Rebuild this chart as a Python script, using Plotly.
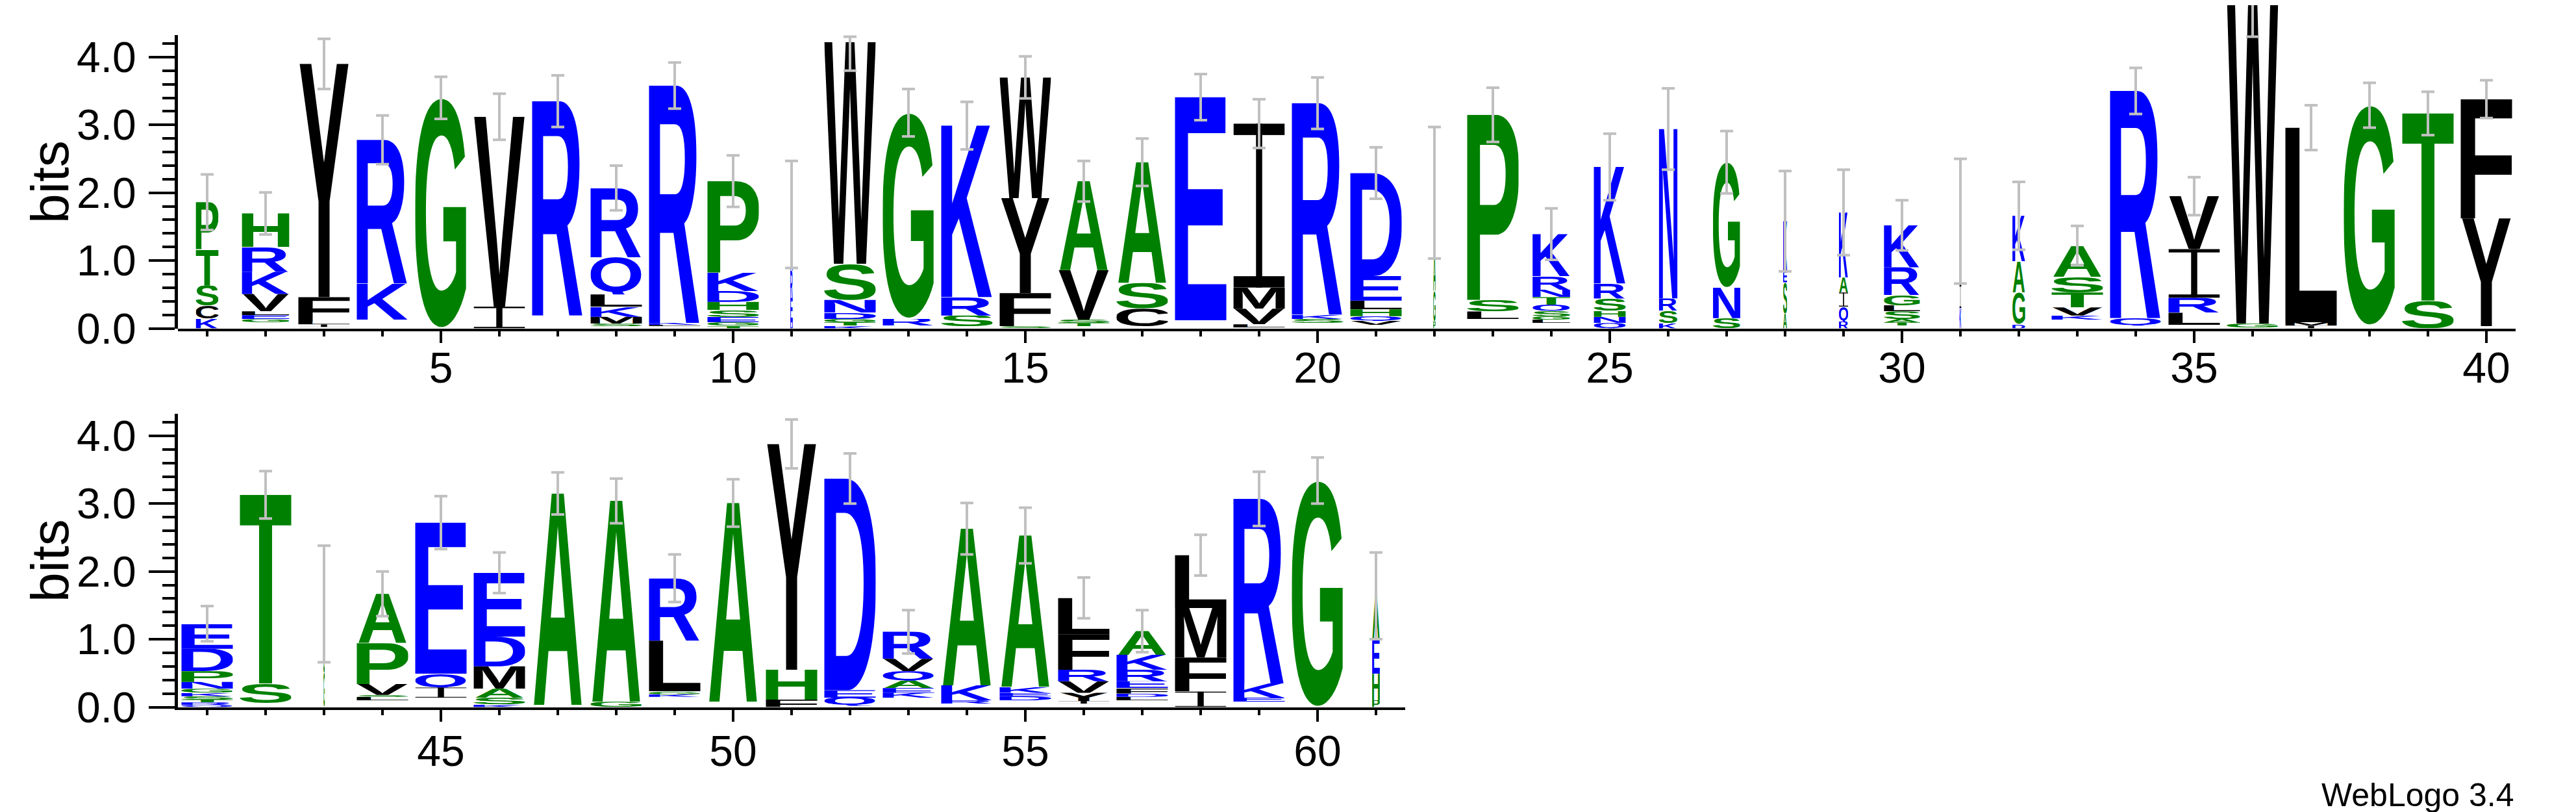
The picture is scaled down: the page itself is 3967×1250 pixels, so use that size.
import base64
import plotly.graph_objects as go

positions = list(range(1, 62))

# residues of each stack, listed bottom -> top
stack_letters = [
    "KCSTP", "GELVKRH", "ILFY", "KR", "G", "IV", "R", "SMKLQR", "LKR", "TGESHDKP",
    "DERK", "KTGDNSW", "RG", "SRK", "SFYW", "TSVA", "CSA", "E", "LVMI", "SKR",
    "VQHLED", "PGAS", "LSP", "LGSQTNRK", "QNHSRK", "KSRN", "SNG", "ASEK", "RQIAK", "TASLGRK",
    "KIL", "DGAK", "KVTSA", "QR", "LRIV", "GW", "IML", "G", "ST", "YF",
    "QRTSKGNPDE", "ST", "GSA", "LSVPA", "IQE", "KSAMDE", "A", "GA", "KGLR", "A",
    "FHY", "QED", "KEAQVR", "RKA", "DEKA", "IYVRFL", "LDFERKA", "IFML", "EKR", "G", "PHEA",
]

# height (bits) of each residue, same order as stack_letters
stack_heights = [
    [0.14, 0.19, 0.30, 0.53, 0.70],
    [0.045, 0.058, 0.058, 0.256, 0.326, 0.367, 0.495],
    [0.04, 0.04, 0.36, 3.44],
    [0.53, 2.12],
    [3.40],
    [0.32, 2.80],
    [3.16],
    [0.04, 0.10, 0.15, 0.18, 0.55, 1.02],
    [0.02, 0.03, 3.50],
    [0.04, 0.05, 0.08, 0.10, 0.12, 0.16, 0.27, 1.35],
    [0.10, 0.35, 0.40, 0.83],
    [0.04, 0.05, 0.05, 0.09, 0.19, 0.53, 3.27],
    [0.10, 3.04],
    [0.16, 0.27, 2.53],
    [0.03, 0.49, 1.40, 1.78],
    [0.05, 0.05, 0.73, 1.31],
    [0.26, 0.38, 1.78],
    [3.29],
    [0.05, 0.23, 0.31, 2.42],
    [0.06, 0.06, 3.12],
    [0.06, 0.07, 0.10, 0.13, 0.36, 1.52],
    [0.10, 0.45, 0.55, 0.90],
    [0.11, 0.17, 2.73],
    [0.05, 0.05, 0.08, 0.09, 0.11, 0.11, 0.20, 0.62],
    [0.08, 0.09, 0.09, 0.18, 0.22, 1.72],
    [0.08, 0.18, 0.18, 2.50],
    [0.15, 0.45, 1.85],
    [0.22, 0.46, 0.17, 0.73],
    [0.10, 0.22, 0.21, 0.22, 0.96],
    [0.05, 0.05, 0.11, 0.09, 0.15, 0.41, 0.62],
    [0.30, 0.34, 0.94],
    [0.06, 0.47, 0.46, 0.67],
    [0.06, 0.12, 0.22, 0.23, 0.46],
    [0.11, 3.35],
    [0.18, 0.22, 0.72, 0.78],
    [0.06, 4.85],
    [0.04, 0.05, 2.87],
    [3.25],
    [0.41, 2.76],
    [1.59, 1.76],
    [0.03, 0.04, 0.04, 0.05, 0.05, 0.06, 0.10, 0.16, 0.33, 0.37],
    [0.29, 2.78],
    [0.50, 0.50, 0.52],
    [0.05, 0.03, 0.16, 0.60, 0.73],
    [0.15, 0.20, 2.23],
    [0.04, 0.10, 0.13, 0.33, 0.44, 0.94],
    [3.12],
    [0.08, 2.96],
    [0.04, 0.04, 0.75, 0.92],
    [2.93],
    [0.11, 0.44, 3.33],
    [0.12, 0.11, 3.12],
    [0.07, 0.07, 0.11, 0.14, 0.18, 0.40],
    [0.05, 0.22, 2.31],
    [0.06, 0.05, 0.09, 2.23],
    [0.04, 0.12, 0.17, 0.17, 0.52, 0.54],
    [0.05, 0.05, 0.08, 0.10, 0.17, 0.22, 0.35],
    [0.23, 0.50, 0.73, 0.78],
    [0.06, 0.21, 2.72],
    [3.34],
    [0.10, 0.39, 0.52, 0.63],
]

# bits taken by residues too small to be drawn (bottom of each stack)
hidden_bits = [
    0, 0.09, 0.02, 0.13, 0, 0, 0.19, 0.03, 0.03, 0,
    0, 0, 0.04, 0.03, 0, 0.03, 0.03, 0.12, 0.01, 0.08,
    0.05, 0, 0.14, 0.08, 0, 0, 0, 0, 0, 0.04,
    0, 0, 0.13, 0.04, 0.05, 0.01, 0, 0.04, 0, 0.03,
    0, 0.06, 0, 0.10, 0.14, 0, 0.03, 0, 0.15, 0.08,
    0, 0.02, 0.14, 0.05, 0.10, 0.05, 0.10, 0, 0.08, 0, 0,
]

# relative stack width (fraction of non-gap sequences)
stack_widths = [
    0.44, 0.92, 1, 1, 1, 1, 1, 1, 1, 1,
    0.05, 1, 1, 1, 1, 1, 1, 1, 1, 1,
    1, 0.05, 1, 0.73, 0.62, 0.36, 0.53, 0.08, 0.18, 0.70,
    0.04, 0.25, 1, 1, 1, 1, 1, 1, 1, 1,
    1, 1, 0.03, 1, 1, 1, 1, 1, 1, 1,
    1, 1, 1, 1, 1, 1, 1, 1, 1, 1, 0.15,
]

# error bar half-length (bits)
error_bits = [
    0.41, 0.31, 0.37, 0.36, 0.31, 0.34, 0.38, 0.33, 0.34, 0.38,
    0.79, 0.42, 0.35, 0.35, 0.31, 0.30, 0.35, 0.34, 0.36, 0.38,
    0.38, 0.97, 0.40, 0.38, 0.49, 0.60, 0.46, 0.74, 0.63, 0.37,
    0.92, 0.50, 0.29, 0.34, 0.28, 0.62, 0.33, 0.33, 0.32, 0.28,
    0.26, 0.35, 0.86, 0.33, 0.39, 0.30, 0.31, 0.33, 0.35, 0.35,
    0.36, 0.37, 0.32, 0.38, 0.41, 0.30, 0.31, 0.30, 0.40, 0.34, 0.64,
]

row_ranges = [(1, 40), (41, 61)]
y_tick_values = [0, 1, 2, 3, 4]
y_tick_text = ["0.0", "1.0", "2.0", "3.0", "4.0"]
x_tick_values = [[5, 10, 15, 20, 25, 30, 35, 40], [45, 50, 55, 60]]

# ---------------- styling ----------------
MAX_BITS = 4.3219
ERR_CLIP = 4.30
LETTER_W = 0.878
FONT = "Liberation Sans, Arial, sans-serif"

BLUE, GREEN, BLACK = "#0000FF", "#008000", "#000000"


def residue_color(ch):
    if ch in "RKDENQ":
        return BLUE
    if ch in "SGHTAP":
        return GREEN
    return BLACK


# advance, left bearing, right bearing, top overshoot, bottom extent (1/1000 em)
GLYPH = {
    "A": (722, 0, 0, 0, 0), "C": (722, 45, 45, 14, 14), "D": (722, 73, 45, 0, 0),
    "E": (667, 73, 50, 0, 0), "F": (611, 73, 45, 0, 0), "G": (778, 45, 55, 14, 14),
    "H": (722, 73, 73, 0, 0), "K": (722, 73, 0, 0, 0), "L": (611, 73, 35, 0, 0),
    "M": (833, 70, 70, 0, 0), "N": (722, 73, 73, 0, 0), "P": (667, 73, 40, 0, 0),
    "Q": (778, 42, 35, 14, 60), "R": (722, 73, 5, 0, 0), "S": (667, 35, 40, 14, 14),
    "T": (611, 20, 20, 0, 0), "V": (667, 0, 0, 0, 0), "W": (944, 3, 3, 0, 0),
    "Y": (667, 0, 0, 0, 0),
}
CAP_SANS = 688

_uri_cache = {}


def glyph_uri(ch):
    if ch in _uri_cache:
        return _uri_cache[ch]
    col = residue_color(ch)
    if ch == "I":
        # WebLogo-style I: full-width bars with a narrow stem
        svg = (
            '<svg xmlns="http://www.w3.org/2000/svg" width="100" height="100" '
            'viewBox="0 0 100 100" preserveAspectRatio="none">'
            f'<rect x="0" y="0" width="100" height="7" fill="{col}"/>'
            f'<rect x="0" y="93" width="100" height="7" fill="{col}"/>'
            f'<rect x="44" y="0" width="12" height="100" fill="{col}"/></svg>'
        )
    else:
        adv, lsb, rsb, over, under = GLYPH[ch]
        fam = "'Liberation Sans', Arial, sans-serif"
        vx, vw = lsb, adv - lsb - rsb
        vy, vh = -(CAP_SANS + over), CAP_SANS + over + under
        svg = (
            f'<svg xmlns="http://www.w3.org/2000/svg" width="{vw}" height="{vh}" '
            f'viewBox="{vx} {vy} {vw} {vh}" preserveAspectRatio="none">'
            f'<text x="0" y="0" font-family="{fam}" font-weight="bold" font-size="1000" '
            f'fill="{col}" textLength="{adv}" lengthAdjust="spacingAndGlyphs">{ch}</text></svg>'
        )
    uri = "data:image/svg+xml;base64," + base64.b64encode(svg.encode()).decode()
    _uri_cache[ch] = uri
    return uri


# ---------------- geometry of the figure ----------------
W_PX, H_PX = 3967, 1250
PX_PER_BIT = 104.4
x_left_px = 266
px_per_pos = 90
row_base_px = [497.5, 1080.5]

fig = go.Figure()
images = []

axis_names = [("x", "y"), ("x2", "y2")]
for r, (lo, hi) in enumerate(row_ranges):
    xr, yr = axis_names[r]
    xs, tops, up, down = [], [], [], []
    for i, pos in enumerate(positions):
        if not (lo <= pos <= hi):
            continue
        base = hidden_bits[i]
        for ch, h in zip(stack_letters[i], stack_heights[i]):
            images.append(dict(
                source=glyph_uri(ch), xref=xr, yref=yr, x=pos, y=base,
                sizex=LETTER_W * stack_widths[i], sizey=h,
                xanchor="center", yanchor="bottom", sizing="stretch", layer="below",
            ))
            base += h
        top = base
        xs.append(pos)
        tops.append(top)
        e = error_bits[i]
        up.append(e if top >= ERR_CLIP else min(e, ERR_CLIP - top))
        down.append(e)
    fig.add_trace(go.Scatter(
        x=xs, y=tops, mode="markers", xaxis=xr, yaxis=yr,
        marker=dict(size=1, color="rgba(0,0,0,0)"),
        error_y=dict(type="data", symmetric=False, array=up, arrayminus=down,
                     color="#C0C0C0", thickness=4, width=10),
        hoverinfo="skip", showlegend=False,
    ))

# dummy trace so that the top display axis (y3) gets a subplot
fig.add_trace(go.Scatter(x=[1], y=[0], xaxis="x", yaxis="y3", mode="markers",
                         marker=dict(size=1, color="rgba(0,0,0,0)"),
                         hoverinfo="skip", showlegend=False))

tickfont = dict(family=FONT, size=66, color="black")
x_label_standoff = [-18, -11]


def x_axis(r, lo, hi, anchor):
    right_px = x_left_px + (hi - lo + 1) * px_per_pos
    return dict(
        domain=[x_left_px / W_PX, right_px / W_PX], range=[lo - 0.5, hi + 0.5],
        anchor=anchor, showline=True, linecolor="black", linewidth=4,
        ticks="outside", ticklen=18, tickwidth=4, tickcolor="black",
        tickmode="array", tickvals=x_tick_values[r], tickfont=tickfont,
        ticklabelstandoff=x_label_standoff[r],
        minor=dict(ticks="outside", tickmode="array", tickvals=list(range(lo, hi + 1)),
                   ticklen=8, tickwidth=4, tickcolor="black", showgrid=False),
        showgrid=False, zeroline=False, automargin=False, fixedrange=True,
    )


def y_display_axis(r, anchor):
    b = 1 - row_base_px[r] / H_PX
    return dict(
        domain=[b, b + MAX_BITS * PX_PER_BIT / H_PX], range=[0, MAX_BITS],
        anchor=anchor, showline=True, linecolor="black", linewidth=5,
        ticks="outside", ticklen=40, tickwidth=4, tickcolor="black",
        tickmode="array", tickvals=y_tick_values, ticktext=y_tick_text, tickfont=tickfont,
        ticklabelstandoff=6,
        minor=dict(ticks="outside", tickmode="array",
                   tickvals=[round(0.2 * k, 1) for k in range(1, 22) if k % 5],
                   ticklen=19, tickwidth=4, tickcolor="black", showgrid=False),
        showgrid=False, zeroline=False, automargin=False, fixedrange=True,
    )


top_b = 1 - row_base_px[0] / H_PX
layout_axes = dict(
    xaxis=x_axis(0, 1, 40, "y"),
    yaxis=dict(domain=[top_b, 1.0], range=[0, row_base_px[0] / PX_PER_BIT], anchor="x",
               visible=False, showgrid=False, zeroline=False, automargin=False, fixedrange=True),
    yaxis3=y_display_axis(0, "x"),
    xaxis2=x_axis(1, 41, 61, "y2"),
    yaxis2=y_display_axis(1, "x2"),
)

annotations = []
for r in range(2):
    center_px = row_base_px[r] - MAX_BITS * PX_PER_BIT / 2
    annotations.append(dict(
        text="bits", xref="paper", yref="paper", x=69 / W_PX, y=1 - center_px / H_PX,
        xanchor="center", yanchor="middle", textangle=-90, showarrow=False,
        font=dict(family=FONT, size=82, color="black"),
    ))
annotations.append(dict(
    text="WebLogo 3.4", xref="paper", yref="paper", x=3866 / W_PX, y=1 - 1215.5 / H_PX,
    xanchor="right", yanchor="middle", showarrow=False,
    font=dict(family=FONT, size=50, color="black"),
))

fig.update_layout(
    template="none", width=W_PX, height=H_PX,
    margin=dict(l=0, r=0, t=0, b=0, pad=0),
    paper_bgcolor="white", plot_bgcolor="rgba(0,0,0,0)",
    showlegend=False, images=images, annotations=annotations,
    **layout_axes,
)

fig.write_html("out.html")
